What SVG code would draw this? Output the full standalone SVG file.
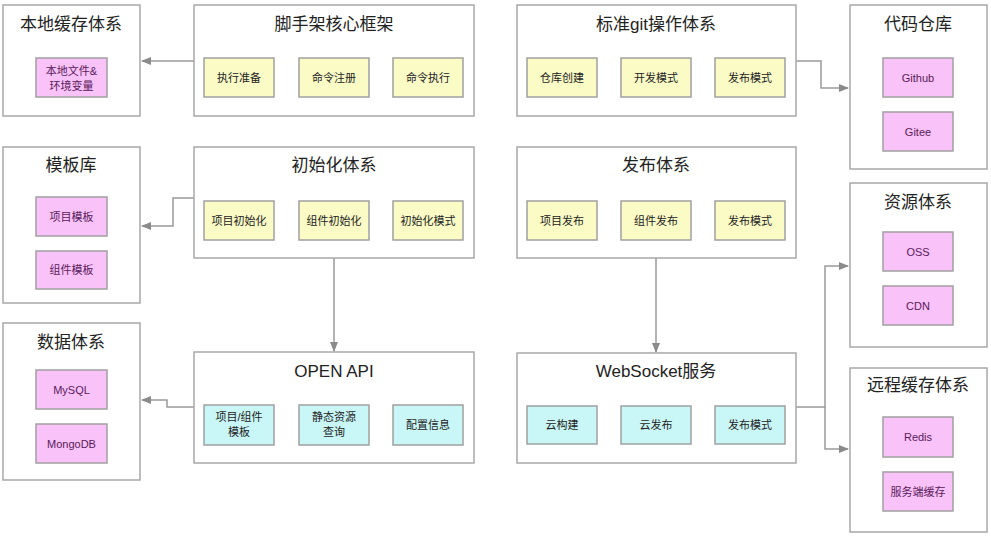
<svg xmlns="http://www.w3.org/2000/svg" width="991" height="537" viewBox="0 0 991 537">
<defs>
<style>
.outer{fill:#fff;stroke:#a8a8a8;stroke-width:1.5}
.y{fill:#fbfbc6;stroke:#a0a0a0;stroke-width:1.5}
.p{fill:#f9c2f9;stroke:#a0a0a0;stroke-width:1.5}
.c{fill:#c9f7f7;stroke:#a0a0a0;stroke-width:1.5}
.t{font-family:"Liberation Sans","Noto Sans CJK SC",sans-serif;font-size:17px;fill:#222;text-anchor:middle}
.s{font-family:"Liberation Sans","Noto Sans CJK SC",sans-serif;font-size:11px;fill:#222;text-anchor:middle}
.sp{font-family:"Liberation Sans","Noto Sans CJK SC",sans-serif;font-size:11px;fill:#5a1a5a;text-anchor:middle}
.ln{fill:none;stroke:#9a9a9a;stroke-width:1.5}
</style>
<marker id="ah" markerWidth="10" markerHeight="8" refX="9" refY="4" orient="auto" markerUnits="userSpaceOnUse">
<path d="M0,0 L10,4 L0,8 Z" fill="#8a8a8a"/>
</marker>
</defs>

<g id="connectors">
<path class="ln" d="M194,61 H142" marker-end="url(#ah)"/>
<path class="ln" d="M194,198 H173 V226 H142" marker-end="url(#ah)"/>
<path class="ln" d="M194,407 H167 V400 H142" marker-end="url(#ah)"/>
<path class="ln" d="M334,258 V351" marker-end="url(#ah)"/>
<path class="ln" d="M656,258 V352" marker-end="url(#ah)"/>
<path class="ln" d="M796,61 H821 V88 H848" marker-end="url(#ah)"/>
<path class="ln" d="M796,407 H825 V266 H848" marker-end="url(#ah)"/>
<path class="ln" d="M825,407 V449 H848" marker-end="url(#ah)"/>
</g>

<g id="local-cache">
<rect class="outer" x="3" y="5" width="137" height="111"/>
<text class="t" x="71" y="30">本地缓存体系</text>
<rect class="p" x="36" y="58" width="71" height="39"/>
<text class="sp" x="71.5" y="75">本地文件&amp;</text>
<text class="sp" x="71.5" y="90">环境变量</text>
</g>

<g id="core">
<rect class="outer" x="194" y="5" width="280" height="111"/>
<text class="t" x="334" y="30">脚手架核心框架</text>
<rect class="y" x="204" y="58" width="70" height="39"/>
<text class="s" x="239" y="82">执行准备</text>
<rect class="y" x="299" y="58" width="70" height="39"/>
<text class="s" x="334" y="82">命令注册</text>
<rect class="y" x="393" y="58" width="70" height="39"/>
<text class="s" x="428" y="82">命令执行</text>
</g>

<g id="git">
<rect class="outer" x="517" y="5" width="279" height="111"/>
<text class="t" x="656" y="30">标准git操作体系</text>
<rect class="y" x="527" y="58" width="70" height="39"/>
<text class="s" x="562" y="82">仓库创建</text>
<rect class="y" x="621" y="58" width="70" height="39"/>
<text class="s" x="656" y="82">开发模式</text>
<rect class="y" x="715" y="58" width="70" height="39"/>
<text class="s" x="750" y="82">发布模式</text>
</g>

<g id="repo">
<rect class="outer" x="850" y="5" width="137" height="164"/>
<text class="t" x="918" y="30">代码仓库</text>
<rect class="p" x="883" y="58" width="70" height="39"/>
<text class="sp" x="918" y="82">Github</text>
<rect class="p" x="883" y="112" width="70" height="39"/>
<text class="sp" x="918" y="136">Gitee</text>
</g>

<g id="template">
<rect class="outer" x="3" y="147" width="137" height="156"/>
<text class="t" x="71" y="171">模板库</text>
<rect class="p" x="36" y="197" width="71" height="39"/>
<text class="sp" x="71.5" y="221">项目模板</text>
<rect class="p" x="36" y="251" width="71" height="38"/>
<text class="sp" x="71.5" y="274">组件模板</text>
</g>

<g id="init">
<rect class="outer" x="194" y="147" width="280" height="111"/>
<text class="t" x="334" y="171">初始化体系</text>
<rect class="y" x="204" y="201" width="70" height="39"/>
<text class="s" x="239" y="225">项目初始化</text>
<rect class="y" x="299" y="201" width="70" height="39"/>
<text class="s" x="334" y="225">组件初始化</text>
<rect class="y" x="393" y="201" width="70" height="39"/>
<text class="s" x="428" y="225">初始化模式</text>
</g>

<g id="publish">
<rect class="outer" x="517" y="147" width="279" height="111"/>
<text class="t" x="656" y="171">发布体系</text>
<rect class="y" x="527" y="201" width="70" height="39"/>
<text class="s" x="562" y="225">项目发布</text>
<rect class="y" x="621" y="201" width="70" height="39"/>
<text class="s" x="656" y="225">组件发布</text>
<rect class="y" x="715" y="201" width="70" height="39"/>
<text class="s" x="750" y="225">发布模式</text>
</g>

<g id="resource">
<rect class="outer" x="850" y="183" width="137" height="164"/>
<text class="t" x="918" y="208">资源体系</text>
<rect class="p" x="883" y="232" width="70" height="39"/>
<text class="sp" x="918" y="256">OSS</text>
<rect class="p" x="883" y="286" width="70" height="39"/>
<text class="sp" x="918" y="310">CDN</text>
</g>

<g id="data">
<rect class="outer" x="3" y="323" width="137" height="157"/>
<text class="t" x="71" y="348">数据体系</text>
<rect class="p" x="36" y="370" width="71" height="39"/>
<text class="sp" x="71.5" y="394">MySQL</text>
<rect class="p" x="36" y="424" width="71" height="39"/>
<text class="sp" x="71.5" y="448">MongoDB</text>
</g>

<g id="openapi">
<rect class="outer" x="194" y="352" width="280" height="111"/>
<text class="t" x="334" y="377">OPEN API</text>
<rect class="c" x="204" y="405" width="70" height="40"/>
<text class="s" x="239" y="421">项目/组件</text>
<text class="s" x="239" y="436">模板</text>
<rect class="c" x="299" y="405" width="70" height="40"/>
<text class="s" x="334" y="421">静态资源</text>
<text class="s" x="334" y="436">查询</text>
<rect class="c" x="393" y="405" width="70" height="40"/>
<text class="s" x="428" y="429">配置信息</text>
</g>

<g id="websocket">
<rect class="outer" x="517" y="353" width="279" height="110"/>
<text class="t" x="656" y="377">WebSocket服务</text>
<rect class="c" x="527" y="406" width="70" height="38"/>
<text class="s" x="562" y="429">云构建</text>
<rect class="c" x="621" y="406" width="70" height="38"/>
<text class="s" x="656" y="429">云发布</text>
<rect class="c" x="715" y="406" width="70" height="38"/>
<text class="s" x="750" y="429">发布模式</text>
</g>

<g id="remote-cache">
<rect class="outer" x="850" y="368" width="137" height="164"/>
<text class="t" x="918" y="391">远程缓存体系</text>
<rect class="p" x="883" y="417" width="70" height="40"/>
<text class="sp" x="918" y="441">Redis</text>
<rect class="p" x="883" y="472" width="70" height="39"/>
<text class="sp" x="918" y="496">服务端缓存</text>
</g>
</svg>
